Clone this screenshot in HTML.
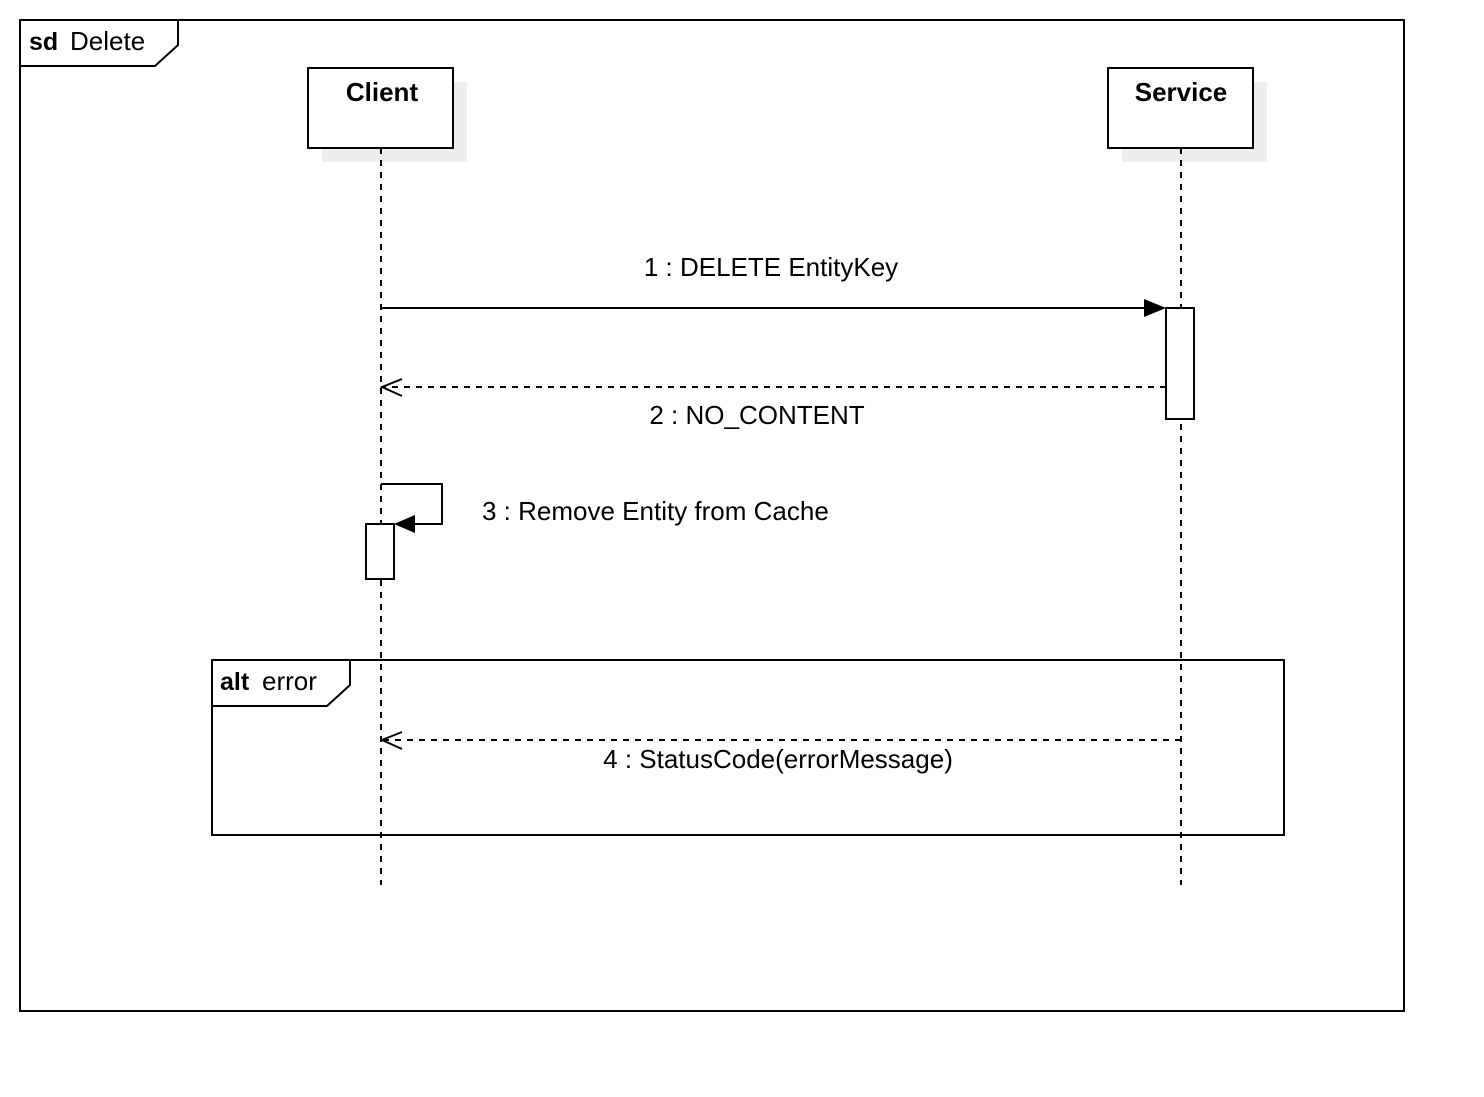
<!DOCTYPE html>
<html><head><style>html,body{margin:0;padding:0;background:#fff}</style></head>
<body>
<svg width="1484" height="1092" xmlns="http://www.w3.org/2000/svg" font-family="Liberation Sans, Arial, sans-serif">
<rect x="0" y="0" width="1484" height="1092" fill="#fff"/>
<rect x="20" y="20" width="1384" height="991" fill="none" stroke="#000" stroke-width="2"/>
<path d="M20 20 H178 V45 L155 66 H20" fill="none" stroke="#000" stroke-width="2"/>
<text x="29" y="50" font-size="25" font-weight="bold">sd</text>
<text x="70" y="50" font-size="26">Delete</text>
<rect x="322" y="82" width="145" height="80" fill="#eee"/>
<rect x="1122" y="82" width="145" height="80" fill="#eee"/>
<rect x="308" y="68" width="145" height="80" fill="#fff" stroke="#000" stroke-width="2"/>
<rect x="1108" y="68" width="145" height="80" fill="#fff" stroke="#000" stroke-width="2"/>
<text x="382" y="101" font-size="26" font-weight="bold" text-anchor="middle">Client</text>
<text x="1181" y="101" font-size="26" font-weight="bold" text-anchor="middle">Service</text>
<line x1="381" y1="148" x2="381" y2="885" stroke="#000" stroke-width="2" stroke-dasharray="6,6"/>
<line x1="1181" y1="148" x2="1181" y2="885" stroke="#000" stroke-width="2" stroke-dasharray="6,6"/>
<line x1="381" y1="308" x2="1150" y2="308" stroke="#000" stroke-width="2"/>
<polygon points="1166,308 1144,299 1144,317" fill="#000"/>
<text x="771" y="276" font-size="26" text-anchor="middle">1 : DELETE EntityKey</text>
<rect x="1166" y="308" width="28" height="111" fill="#fff" stroke="#000" stroke-width="2"/>
<line x1="1166" y1="387" x2="382" y2="387" stroke="#000" stroke-width="2" stroke-dasharray="6,6"/>
<polyline points="402,379 382,387 402,396" fill="none" stroke="#000" stroke-width="2"/>
<text x="757" y="424" font-size="26" text-anchor="middle">2 : NO_CONTENT</text>
<polyline points="381,484 442,484 442,524 410,524" fill="none" stroke="#000" stroke-width="2"/>
<polygon points="394,524 415,515 415,533" fill="#000"/>
<rect x="366" y="524" width="28" height="55" fill="#fff" stroke="#000" stroke-width="2"/>
<text x="482" y="520" font-size="26">3 : Remove Entity from Cache</text>
<rect x="212" y="660" width="1072" height="175" fill="none" stroke="#000" stroke-width="2"/>
<path d="M212 660 H350 V685 L327 706 H212" fill="none" stroke="#000" stroke-width="2"/>
<text x="220" y="690" font-size="25" font-weight="bold">alt</text>
<text x="262" y="690" font-size="26">error</text>
<line x1="1181" y1="740" x2="382" y2="740" stroke="#000" stroke-width="2" stroke-dasharray="6,6"/>
<polyline points="402,732 382,740 402,749" fill="none" stroke="#000" stroke-width="2"/>
<text x="778" y="768" font-size="26" text-anchor="middle">4 : StatusCode(errorMessage)</text>
</svg>
</body></html>
